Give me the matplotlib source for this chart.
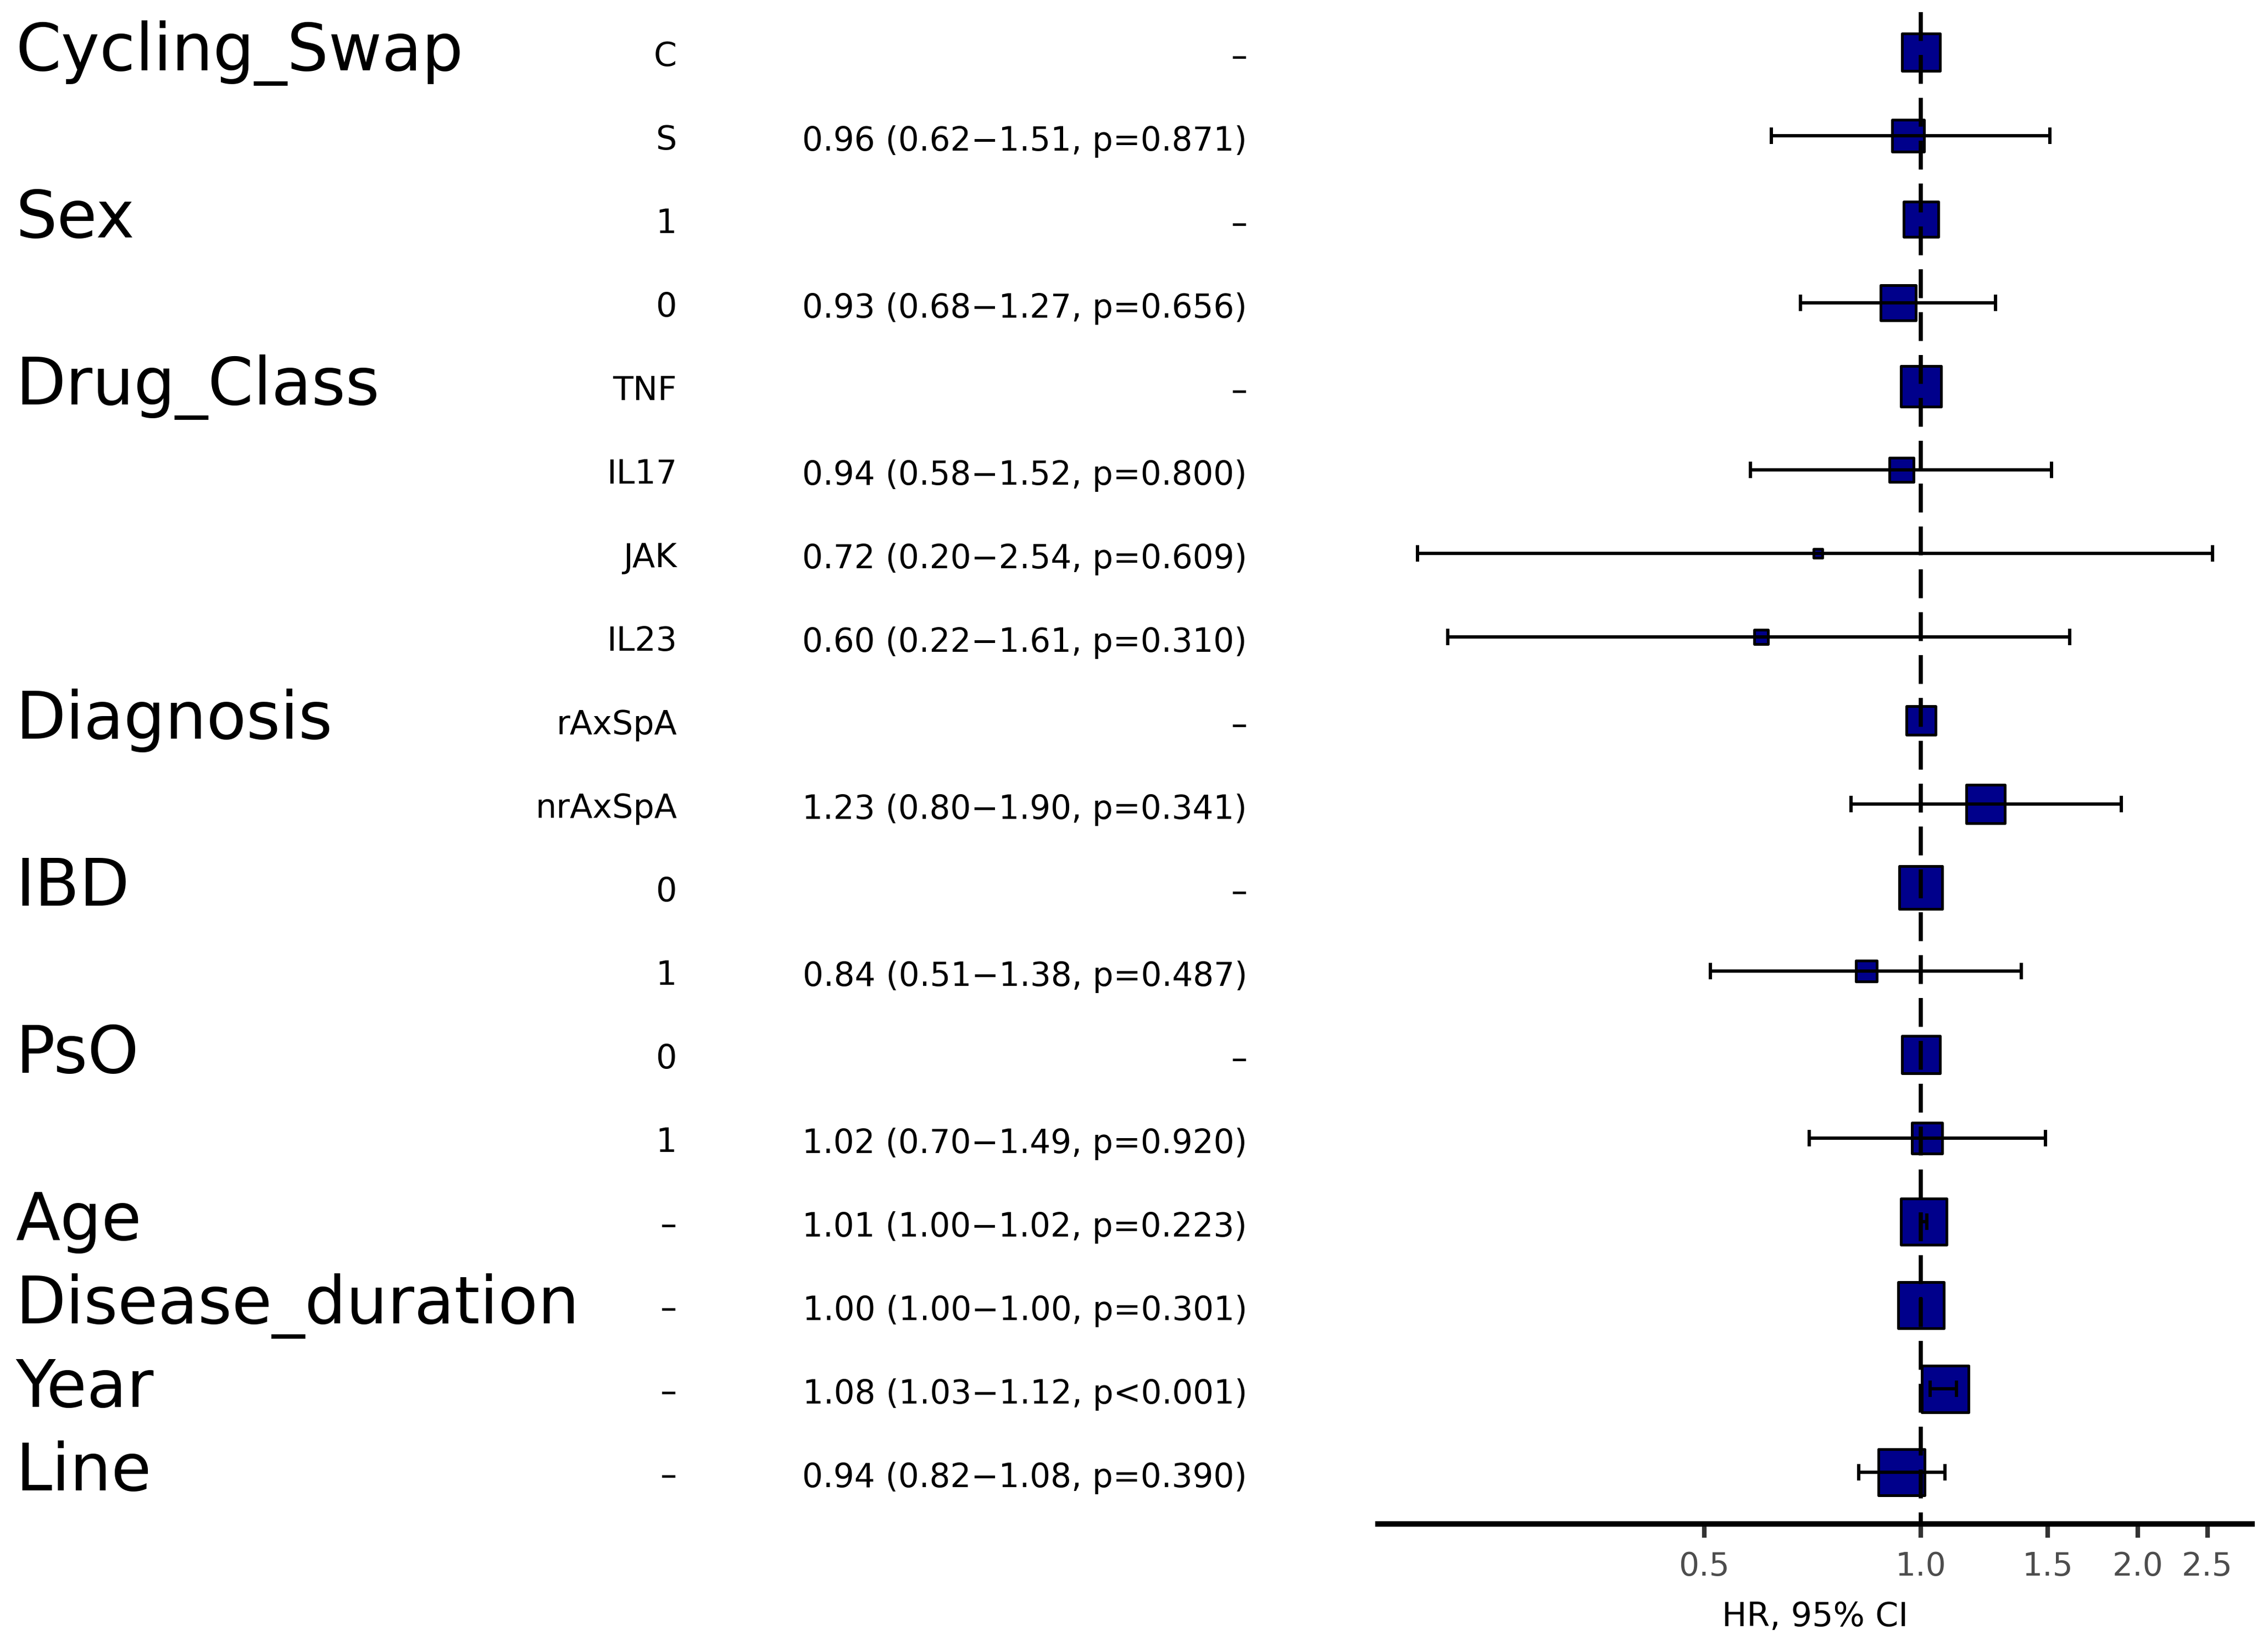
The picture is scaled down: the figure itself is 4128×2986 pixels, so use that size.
import numpy as np
import matplotlib
matplotlib.use("Agg")
import matplotlib.pyplot as plt
from matplotlib.ticker import FixedLocator, FixedFormatter, NullLocator
from matplotlib.transforms import blended_transform_factory, ScaledTranslation

# ---------------- data ----------------
variables = ["Cycling_Swap", "", "Sex", "", "Drug_Class", "", "", "",
             "Diagnosis", "", "IBD", "", "PsO", "", "Age",
             "Disease_duration", "Year", "Line"]
levels = ["C", "S", "1", "0", "TNF", "IL17", "JAK", "IL23",
          "rAxSpA", "nrAxSpA", "0", "1", "0", "1", "\u2013", "\u2013", "\u2013", "\u2013"]
hr = [1.00, 0.96, 1.00, 0.93, 1.00, 0.94, 0.72, 0.60,
      1.00, 1.23, 1.00, 0.84, 1.00, 1.02, 1.01, 1.00, 1.08, 0.94]
ci_low = [np.nan, 0.62, np.nan, 0.68, np.nan, 0.58, 0.20, 0.22,
          np.nan, 0.80, np.nan, 0.51, np.nan, 0.70, 1.00, 1.00, 1.03, 0.82]
ci_high = [np.nan, 1.51, np.nan, 1.27, np.nan, 1.52, 2.54, 1.61,
           np.nan, 1.90, np.nan, 1.38, np.nan, 1.49, 1.02, 1.00, 1.12, 1.08]
p_values = [None, "=0.871", None, "=0.656", None, "=0.800", "=0.609", "=0.310",
            None, "=0.341", None, "=0.487", None, "=0.920", "=0.223", "=0.301",
            "<0.001", "=0.390"]
# relative group size (drives box size)
n_weight = [0.82, 0.69, 0.76, 0.76, 0.87, 0.54, 0.23, 0.34,
            0.64, 0.84, 0.92, 0.48, 0.82, 0.67, 0.98, 0.98, 1.00, 0.98]
x_ticks = [0.5, 1.0, 1.5, 2.0, 2.5]
x_tick_labels = ["0.5", "1.0", "1.5", "2.0", "2.5"]
x_label = "HR, 95% CI"

# ---------------- figure ----------------
plt.rcParams['font.family'] = ['DejaVu Sans']
W, H, DPI = 4128, 2986, 300
fig = plt.figure(figsize=(W / DPI, H / DPI), dpi=DPI, facecolor='white')

def fx(px):
    return px / W

def fy(py):
    return 1 - py / H

ax_left, ax_right, ax_top, ax_bottom = 2508, 4099, 22, 2773
ax = fig.add_axes([fx(ax_left), fy(ax_bottom),
                   (ax_right - ax_left) / W, (ax_bottom - ax_top) / H])

row0, row_step = 95, 152
n = len(hr)
rows = np.arange(n)
hr_a = np.array(hr)
lo_a = np.array(ci_low)
hi_a = np.array(ci_high)

ax.set_xscale('log')

# boxes
max_side_pt = 90 * 72 / DPI
edge_w = 1.2
sides = np.array(n_weight) * max_side_pt - edge_w
ax.scatter(hr_a, rows, marker='s', s=sides ** 2, c='#00008B',
           edgecolors='black', linewidths=edge_w, zorder=2)

# confidence intervals
m = np.isfinite(lo_a)
ax.errorbar(hr_a[m], rows[m], xerr=[hr_a[m] - lo_a[m], hi_a[m] - hr_a[m]],
            fmt='none', ecolor='black', elinewidth=1.45, capsize=3.5,
            capthick=1.45, zorder=3)

# limits
y_top = (ax_top - row0) / row_step
y_bot = (ax_bottom - row0) / row_step
ax.set_ylim(y_bot, y_top)
l0, l1 = np.log(np.nanmin(lo_a)), np.log(np.nanmax(hi_a))
pad = 0.05 * (l1 - l0)
ax.set_xlim(np.exp(l0 - pad), np.exp(l1 + pad))

# reference line
ax.plot([1, 1], [y_top, y_bot], color='black', lw=1.8, dashes=(7, 3.4),
        dash_capstyle='butt', zorder=4)

# axes styling
for s in ['top', 'left', 'right']:
    ax.spines[s].set_visible(False)
ax.spines['bottom'].set_linewidth(2.4)
ax.spines['bottom'].set_color('black')
ax.set_yticks([])
ax.xaxis.set_major_locator(FixedLocator(x_ticks))
ax.xaxis.set_major_formatter(FixedFormatter(x_tick_labels))
ax.xaxis.set_minor_locator(NullLocator())
ax.tick_params(axis='x', which='major', direction='out', length=6, width=2,
               color='#333333', labelsize=14, labelcolor='#4D4D4D', pad=5.8)
ax.set_facecolor('none')
ax.set_xlabel(x_label, fontsize=14.5, color='black')
ax.xaxis.label.set_va('baseline')
ax.xaxis.set_label_coords(0.5, (ax_bottom - 2959) / (ax_bottom - ax_top))

# table text
trans = blended_transform_factory(fig.transFigure, ax.transData)

def off(px):
    return trans + ScaledTranslation(0, -px * 72 / DPI / 72, fig.dpi_scale_trans)

for i in range(n):
    if variables[i]:
        fig.text(fx(28), i, variables[i], fontsize=28.5, ha='left',
                 va='baseline', transform=off(33))
    fig.text(fx(1232), i, levels[i], fontsize=14.5, ha='right',
             va='baseline', transform=off(25))
    if p_values[i] is None:
        est = "\u2013"
    else:
        est = f"{hr[i]:.2f} ({ci_low[i]:.2f}\u2212{ci_high[i]:.2f}, p{p_values[i]})"
    fig.text(fx(2270), i, est, fontsize=14.3, ha='right',
             va='baseline', transform=off(27))

fig.savefig("out.png", dpi=DPI, facecolor='white')
